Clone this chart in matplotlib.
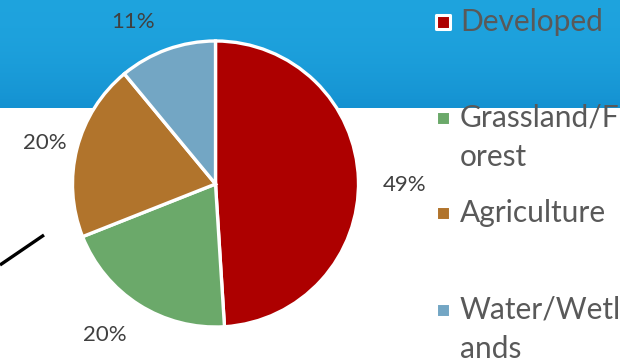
import matplotlib
matplotlib.use("Agg")
import matplotlib.pyplot as plt
from matplotlib.patches import Rectangle
import numpy as np

# ── data ──────────────────────────────────────────────────────────────────────
categories = ["Developed", "Grassland/Forest", "Agriculture", "Water/Wetlands"]
shares = [49, 20, 20, 11]
legend_lines = [["Developed"], ["Grassland/F", "orest"], ["Agriculture"], ["Water/Wetl", "ands"]]
colors = ["#AD0000", "#6BA96A", "#B1742C", "#73A6C4"]

# ── layout (pixels) ───────────────────────────────────────────────────────────
W, H = 620, 360
CX, CY, R = 215.5, 184, 143
label_dist = [1.325, 1.31, 1.23, 1.27]
label_nudge = [-2.0, -3.8, 0.9, 7.2]
legend_y = [22, 118, 213, 310]
TEXT = "#595959"
FONT = "Lato"

fig = plt.figure(figsize=(W / 100, H / 100), dpi=100, facecolor="white")

# background: blue header band + stray connector line
bg = fig.add_axes([0, 0, 1, 1])
bg.set_xlim(0, W)
bg.set_ylim(H, 0)
bg.axis("off")
grad = np.linspace(0, 1, 108)[:, None]
top = np.array([0.12, 0.64, 0.87])
bot = np.array([0.08, 0.57, 0.82])
band = top + (bot - top) * grad[..., None] ** 2
band = np.repeat(band, W, axis=1)
bg.imshow(band, extent=[0, W, 108, 0], aspect="auto", zorder=0)
bg.plot([0, 44], [265, 235], color="black", lw=2.4, solid_capstyle="butt", zorder=1)

# pie
ax = fig.add_axes([(CX - R) / W, 1 - (CY + R) / H, 2 * R / W, 2 * R / H])
wedges, _ = ax.pie(shares, colors=colors, startangle=90, counterclock=False,
                   wedgeprops=dict(edgecolor="white", linewidth=2.4))
ax.set_xlim(-1, 1)
ax.set_ylim(-1, 1)

for w, v, d, n in zip(wedges, shares, label_dist, label_nudge):
    ang = np.deg2rad((w.theta1 + w.theta2) / 2 + n)
    ax.text(d * np.cos(ang), d * np.sin(ang), f"{v}%", ha="center", va="center",
            fontsize=16, color="#404040", family=FONT, clip_on=False)

# legend
for lines, c, y in zip(legend_lines, colors, legend_y):
    bg.add_patch(Rectangle((436, y - 7), 14, 14, facecolor=c, edgecolor="white",
                           lw=2.2, joinstyle="round", zorder=3))
    for i, line in enumerate(lines):
        bg.text(460, y + i * 39, line, ha="left", va="center", fontsize=21.5,
                color=TEXT, family=FONT, zorder=3)

fig.savefig("out.png", dpi=100, facecolor="white")
